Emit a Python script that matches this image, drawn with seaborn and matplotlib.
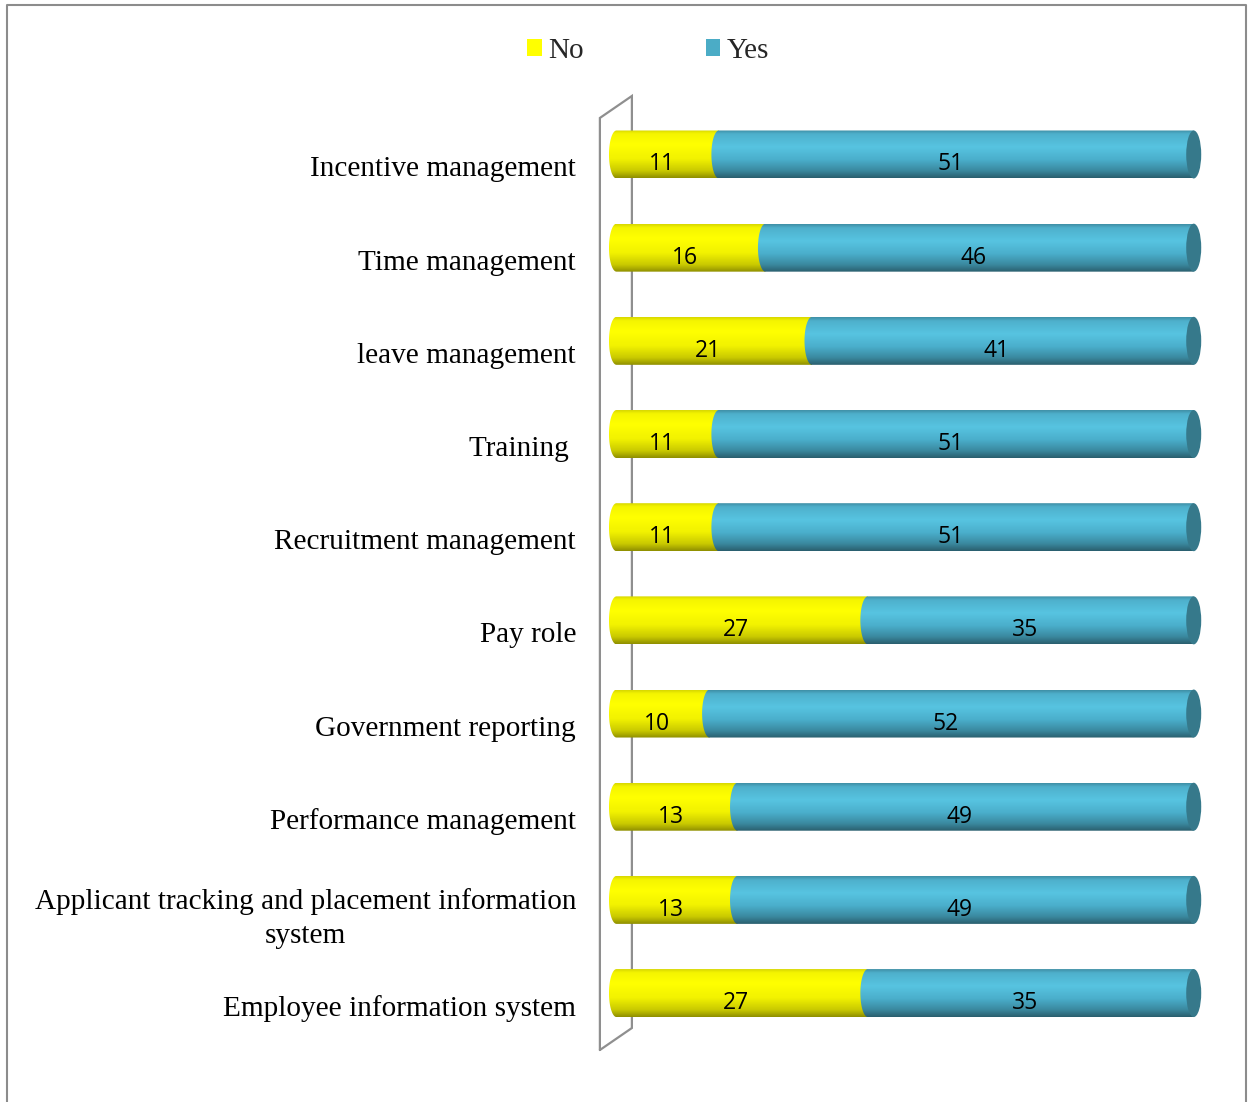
import numpy as np
import pandas as pd
import seaborn as sns
import matplotlib
matplotlib.use("Agg")
import matplotlib.pyplot as plt
import matplotlib.transforms as mtrans
from matplotlib.patches import Polygon, Ellipse, Patch
from matplotlib.lines import Line2D
from matplotlib.colors import LinearSegmentedColormap

# ---- data -------------------------------------------------------------
categories = [
    "Incentive management",
    "Time management",
    "leave management",
    "Training ",
    "Recruitment management",
    "Pay role",
    "Government reporting",
    "Performance management",
    "Applicant tracking and placement information\nsystem",
    "Employee information system",
]
no_counts = [11, 16, 21, 11, 11, 27, 10, 13, 13, 27]
yes_counts = [51, 46, 41, 51, 51, 35, 52, 49, 49, 35]

series_names = ["No", "Yes"]
series_colors = ["#ffff00", "#4bacc6"]

# ---- style --------------------------------------------------------------
sns.set_theme(style="white")
plt.rcParams["font.family"] = ["Liberation Serif", "DejaVu Serif"]

df = pd.DataFrame({"category": categories, "No": no_counts, "Yes": yes_counts})
df["Total"] = df["No"] + df["Yes"]

W, H = 1252, 1102
fig = plt.figure(figsize=(W / 100, H / 100), dpi=100)
fig.patch.set_facecolor("white")
ax = fig.add_axes([590 / W, 1 - 1080 / H, 635 / W, 1020 / H])

BAR_W = 0.515
# stacked bars: full length (Yes on top of No) then the No part
sns.barplot(data=df, y="category", x="Total", orient="h", color=series_colors[1],
            width=BAR_W, ax=ax, saturation=1)
sns.barplot(data=df, y="category", x="No", orient="h", color=series_colors[0],
            width=BAR_W, ax=ax, saturation=1)

# cylinder shading (top -> bottom)
yellow_cmap = LinearSegmentedColormap.from_list("cyl_yellow", [
    (0.00, "#d6d600"), (0.07, "#f4f400"), (0.30, "#ffff00"),
    (0.60, "#f2f200"), (0.85, "#c9c900"), (1.00, "#8e8e00")])
blue_cmap = LinearSegmentedColormap.from_list("cyl_blue", [
    (0.00, "#3f8ea5"), (0.08, "#4eb0cc"), (0.35, "#57c4e1"),
    (0.62, "#4aaecb"), (0.85, "#3a889e"), (1.00, "#2a5e6d")])
CAP_COLOR = "#36798b"
RX = 0.806  # horizontal radius of the end ellipses, data units

grad = np.linspace(0, 1, 256)


def cylinder_segment(x0, x1, y0, h, cmap, z):
    yc = y0 + h / 2
    t = np.linspace(np.pi / 2, 3 * np.pi / 2, 60)
    arc = np.column_stack([x0 + RX * np.cos(t), yc - (h / 2) * np.sin(t)])
    verts = np.vstack([[x1, y0], arc, [x1, y0 + h]])
    clip = Polygon(verts, closed=True, transform=ax.transData,
                   facecolor="none", edgecolor="none")
    img = cmap(grad)[:, None, :3]
    im = ax.imshow(img, extent=[x0 - RX - 0.05, x1 + 0.05, y0 + h, y0],
                   origin="upper", aspect="auto", interpolation="bilinear",
                   zorder=z)
    im.set_clip_path(clip)


total_bars = ax.containers[0]
no_bars = ax.containers[1]
label_shift = mtrans.ScaledTranslation(-6 / 100, -10 / 100, fig.dpi_scale_trans)
value_font = dict(fontsize=16.5, family=["Open Sans", "DejaVu Sans"], color="black")

for i, (tb, nb) in enumerate(zip(total_bars, no_bars)):
    tb.set_visible(False)
    nb.set_visible(False)
    y0, h = nb.get_y(), nb.get_height()
    yc = y0 + h / 2
    n_val, t_val = nb.get_width(), tb.get_width()
    cylinder_segment(0, n_val, y0, h, yellow_cmap, 3)
    cylinder_segment(n_val, t_val, y0, h, blue_cmap, 4)
    ax.add_patch(Ellipse((t_val, yc), 2 * RX, h, facecolor=CAP_COLOR,
                         edgecolor="none", zorder=5))
    ax.text(n_val / 2, yc, f"{no_counts[i]}", ha="center", va="center",
            transform=ax.transData + label_shift, zorder=10, **value_font)
    ax.text(n_val + yes_counts[i] / 2, yc, f"{yes_counts[i]}", ha="center",
            va="center", transform=ax.transData + label_shift, zorder=10,
            **value_font)

# 3-D side wall behind the bars
wall_x = [-1.783, -1.783, 1.654, 1.654, -1.783]
wall_y = [9.611, -0.392, -0.628, 9.375, 9.611]
ax.plot(wall_x, wall_y, color="#8f8f8f", lw=1.6, zorder=1,
        solid_joinstyle="miter", clip_on=False)

ax.set_xlim(-2.846, 65.36)
ax.set_ylim(9.933, -1.014)
ax.set_xlabel("")
ax.set_ylabel("")
ax.set_xticks([])
for s in ax.spines.values():
    s.set_visible(False)
ax.set_facecolor("none")
ax.tick_params(axis="y", length=0, pad=10, labelsize=21.1, colors="black")

tick_shift = mtrans.ScaledTranslation(0, -12 / 100, fig.dpi_scale_trans)
for lab in ax.get_yticklabels():
    lab.set_transform(lab.get_transform() + tick_shift)
    lab.set_multialignment("center")
    lab.set_linespacing(1.4)

# legend
handles = [Patch(facecolor=c, edgecolor="none") for c in series_colors]
fig.legend(handles, series_names, loc="center", ncol=2,
           bbox_to_anchor=(648 / W, 1 - 51 / H), frameon=False,
           fontsize=21, handlelength=0.5, handleheight=0.5,
           handletextpad=0.2, columnspacing=4.2)

# outer frame
frame = Line2D([7 / W, 7 / W, 1246 / W, 1246 / W],
               [0, 1 - 5 / H, 1 - 5 / H, 0],
               transform=fig.transFigure, color="#8c8c8c", lw=1.5)
fig.add_artist(frame)

fig.savefig("out.png", dpi=100, facecolor="white")
